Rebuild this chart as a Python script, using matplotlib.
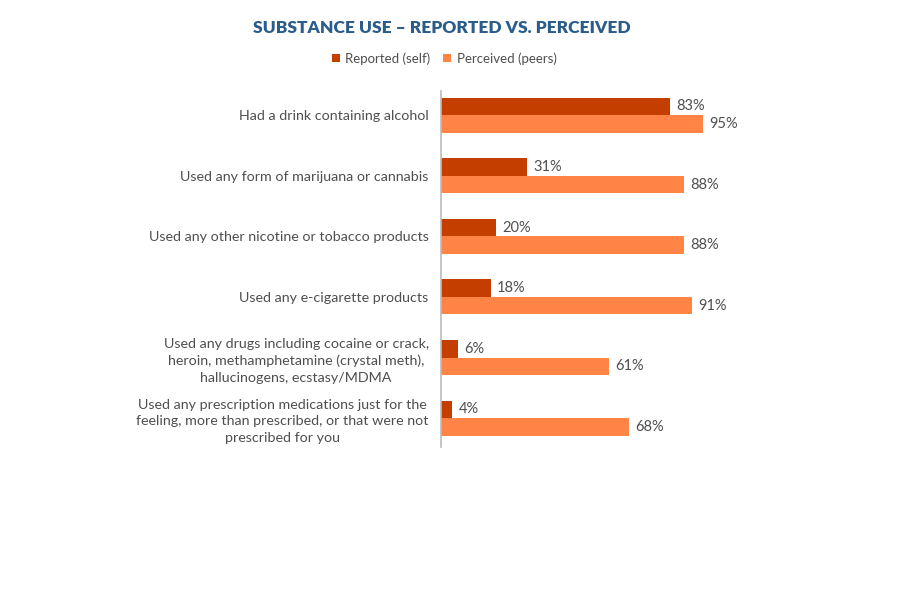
import matplotlib
matplotlib.use("Agg")
import matplotlib.pyplot as plt
import numpy as np

categories = [
    "Had a drink containing alcohol",
    "Used any form of marijuana or cannabis",
    "Used any other nicotine or tobacco products",
    "Used any e-cigarette products",
    "Used any drugs including cocaine or crack,\nheroin, methamphetamine (crystal meth),\nhallucinogens, ecstasy/MDMA",
    "Used any prescription medications just for the\nfeeling, more than prescribed, or that were not\nprescribed for you",
]
reported = [83, 31, 20, 18, 6, 4]
perceived = [95, 88, 88, 91, 61, 68]
series_names = ["Reported (self)", "Perceived (peers)"]

dark = "#C43E00"
light = "#FF8445"
text_gray = "#4F4F4F"
title_color = "#2A5C8C"

plt.rcParams['font.family'] = ['Lato', 'DejaVu Sans']

fig = plt.figure(figsize=(9, 6), dpi=100)
W, H = 924.0, 614.0
left = 453 / W
right = 736 / W
top = 1 - 93 / H
bottom = 1 - 457 / H
ax = fig.add_axes([left, bottom, right - left, top - bottom])

y = np.arange(len(categories))
h = 0.29
ax.barh(y - h / 2, reported, height=h, color=dark, label=series_names[0])
ax.barh(y + h / 2, perceived, height=h, color=light, label=series_names[1])

for yi, v in zip(y, reported):
    ax.text(v + 2.3, yi - h / 2, f"{v}%", va="center", ha="left", fontsize=10.5, color=text_gray)
for yi, v in zip(y, perceived):
    ax.text(v + 2.3, yi + h / 2, f"{v}%", va="center", ha="left", fontsize=10.5, color=text_gray)

ax.set_xlim(0, 100)
ax.set_ylim(5 + 0.47, -0.40)
ax.set_yticks(y)
ax.set_yticklabels(categories, fontsize=10.3, color=text_gray, multialignment="center", linespacing=1.45)
ax.tick_params(axis="y", length=0, pad=9)
ax.set_xticks([])
for s in ["top", "right", "bottom"]:
    ax.spines[s].set_visible(False)
ax.spines["left"].set_color("#BBBBBB")
ax.spines["left"].set_linewidth(1.2)

fig.text(454 / W, 1 - 29 / H, "SUBSTANCE USE \u2013 REPORTED VS. PERCEIVED", ha="center", va="center",
         fontsize=12.5, fontweight="heavy", color=title_color)

leg = fig.legend(loc="center", bbox_to_anchor=(456 / W, 1 - 60 / H), ncol=2, frameon=False,
                 fontsize=9.5, handlelength=0.6, handleheight=0.6, handletextpad=0.4, columnspacing=1.0)
for t in leg.get_texts():
    t.set_color(text_gray)

fig.savefig("out.png", dpi=100, facecolor="white")
